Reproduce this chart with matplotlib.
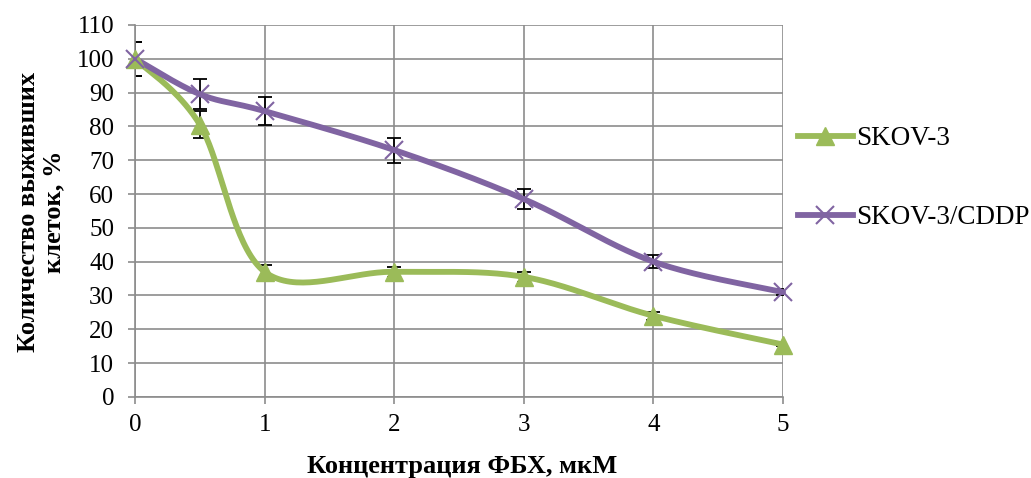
import numpy as np
import matplotlib.pyplot as plt
from matplotlib.lines import Line2D

plt.rcParams['font.family'] = ['Liberation Serif', 'DejaVu Serif']

# Data
conc = [0, 0.5, 1, 2, 3, 4, 5]
skov3 = [100, 80.5, 37, 37, 35.5, 24, 15.5]
skov3_err = [5, 4, 2, 1.5, 1.5, 1.2, 0.5]
cddp = [100, 89.5, 84.5, 73, 58.5, 40, 31]
cddp_err = [5, 4.5, 4.2, 3.7, 3, 2, 1]

green = '#9BBB59'
purple = '#8064A2'


def smooth(x, y, n=40):
    # Excel-like smoothed line: cubic Bezier with Catmull-Rom control points
    x = np.asarray(x, float)
    y = np.asarray(y, float)
    px = np.concatenate([[x[0]], x, [x[-1]]])
    py = np.concatenate([[y[0]], y, [y[-1]]])
    xs, ys = [], []
    t = np.linspace(0, 1, n)
    for i in range(1, len(px) - 2):
        p0 = np.array([px[i], py[i]])
        p3 = np.array([px[i + 1], py[i + 1]])
        c1 = p0 + (np.array([px[i + 1], py[i + 1]]) - np.array([px[i - 1], py[i - 1]])) / 6
        c2 = p3 - (np.array([px[i + 2], py[i + 2]]) - np.array([px[i], py[i]])) / 6
        b = ((1 - t) ** 3)[:, None] * p0 + (3 * (1 - t) ** 2 * t)[:, None] * c1 \
            + (3 * (1 - t) * t ** 2)[:, None] * c2 + (t ** 3)[:, None] * p3
        xs.extend(b[:, 0])
        ys.extend(b[:, 1])
    return xs, ys


fig = plt.figure(figsize=(10.31, 4.78), dpi=100)
ax = fig.add_axes([0.131, 0.1695, 0.6285, 0.7785])

ax.errorbar(conc, skov3, yerr=skov3_err, fmt='none', ecolor='black',
            elinewidth=1.3, capsize=5, capthick=1.3, zorder=2)
ax.errorbar(conc, cddp, yerr=cddp_err, fmt='none', ecolor='black',
            elinewidth=1.3, capsize=5, capthick=1.3, zorder=2)

sx, sy = smooth(conc, skov3)
ax.plot(sx, sy, color=green, lw=4.2, solid_capstyle='round', zorder=3, clip_on=False)
ax.plot(conc, skov3, ls='none', marker='^', ms=13, color=green, zorder=4, clip_on=False)

cx, cy = smooth(conc, cddp)
ax.plot(cx, cy, color=purple, lw=4.2, solid_capstyle='round', zorder=3, clip_on=False)
ax.plot(conc, cddp, ls='none', marker='x', ms=13, mew=1.5, color=purple, zorder=4,
        clip_on=False)

ax.set_xlim(0, 5)
ax.set_ylim(0, 110)
ax.set_xticks(range(0, 6))
ax.set_yticks(range(0, 111, 10))
ax.grid(True, color='#8c8c8c', lw=1.2)
ax.set_axisbelow(True)
for s in ['top', 'right']:
    ax.spines[s].set_visible(False)
for s in ['left', 'bottom']:
    ax.spines[s].set_color('#8c8c8c')
    ax.spines[s].set_linewidth(1.2)
ax.tick_params(colors='#8c8c8c', labelcolor='black', labelsize=18, length=5, width=1.2)
ax.tick_params(axis='y', pad=10)
ax.tick_params(axis='x', pad=7)

fig.text(0.448, 1 - 466 / 478, 'Концентрация ФБХ, мкМ', fontsize=19, fontweight='bold',
         ha='center', va='center')
fig.text(41 / 1031, 1 - 212 / 478, 'Количество выживших\nклеток, %', fontsize=19,
         fontweight='bold', ha='center', va='center', rotation=90, linespacing=1.1)

handles = [Line2D([], [], color=green, lw=4.2, marker='^', ms=13),
           Line2D([], [], color=purple, lw=4.2, marker='x', ms=13, mew=1.5)]
fig.legend(handles, ['SKOV-3', 'SKOV-3/CDDP'], loc='center left',
           bbox_to_anchor=(0.750, 0.627), frameon=False, fontsize=19.5,
           handlelength=2.05, handletextpad=0.1, labelspacing=2.0)

fig.savefig('out.png', dpi=100)
